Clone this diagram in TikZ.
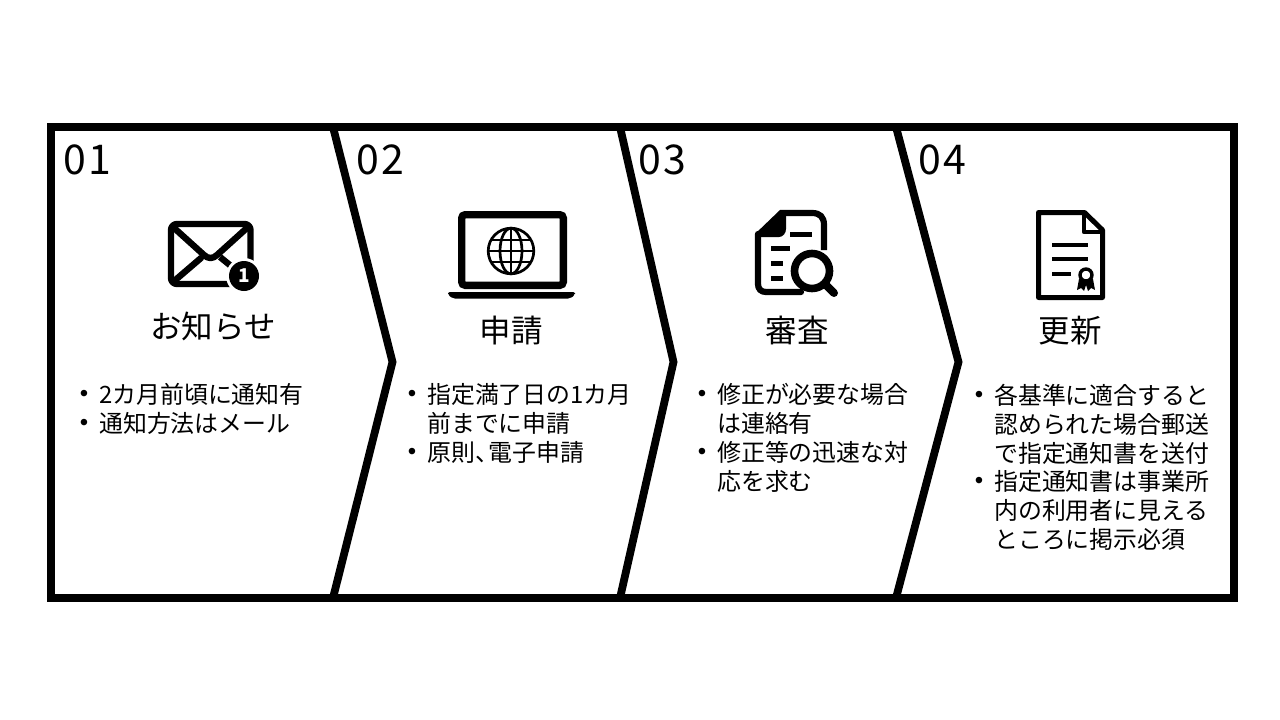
\documentclass[tikz,border=0pt]{standalone}
\usepackage{fontspec}
\setmainfont{Noto Sans CJK JP}
\newfontfamily\bulletfont{Liberation Sans}
\tikzset{
  frameline/.style={line width=7.8pt,line join=miter},
  chevron/.style={line width=7.8pt,line join=miter},
  numlabel/.style={anchor=base west,inner sep=0pt,font=\fontsize{41}{48}\selectfont},
  titlelabel/.style={anchor=base,inner sep=0pt,font=\fontsize{31.5}{36}\selectfont},
  bodytext/.style={anchor=north west,inner sep=0pt,align=left,font=\fontsize{23.9}{28.7}\selectfont},
  bulletmark/.style={anchor=center,inner sep=0pt,font=\bulletfont\fontsize{24}{24}\selectfont},
  icon/.style={line width=6.4pt,line cap=round,line join=round},
  iconthin/.style={line width=5pt,line cap=butt},
}
\begin{document}
\begin{tikzpicture}[x=1pt,y=-1pt]
\useasboundingbox (0,0) rectangle (1280,720);
\fill[white] (0,0) rectangle (1280,720);
% frame and chevrons
\coordinate (fa) at (50.7,126.7);
\coordinate (fb) at (1234.3,598);
\draw[frameline] (fa) rectangle (fb);
\draw[chevron] (333,127) -- (392.5,362) -- (333,598);
\draw[chevron] (620,127) -- (673.5,362) -- (620,598);
\draw[chevron] (896,127) -- (958.5,362) -- (896,598);
% numbers
\node[numlabel] (n1) at (63,174) {0\kern3pt 1};
\node[numlabel] (n2) at (356,174) {0\kern3pt 2};
\node[numlabel] (n3) at (638,174) {0\kern3pt 3};
\node[numlabel] (n4) at (918,174) {0\kern3pt 4};
% titles
\node[titlelabel] (t1) at (213,338.5) {お知らせ};
\node[titlelabel] (t2) at (511,342.5) {申請};
\node[titlelabel] (t3) at (797,342.5) {審査};
\node[titlelabel] (t4) at (1070,342.5) {更新};
% body col 1
\node[bulletmark] (b11) at (84,396) {•};
\node[bulletmark] (b12) at (84,425) {•};
\node[bodytext] (c11) at (99,383.5) {2カ月前頃に通知有};
\node[bodytext] (c12) at (99,412.5) {通知方法はメール};
% body col 2
\node[bulletmark] (b21) at (412,396) {•};
\node[bulletmark] (b22) at (412,454) {•};
\node[bodytext] (c21) at (427,383.5) {指定満了日の1カ月\\前までに申請};
\node[bodytext] (c22) at (427,441.5) {原則、\kern-10pt 電子申請};
% body col 3
\node[bulletmark] (b31) at (702,396) {•};
\node[bulletmark] (b32) at (702,454) {•};
\node[bodytext] (c31) at (717,383.5) {修正が必要な場合\\は連絡有};
\node[bodytext] (c32) at (717,441.5) {修正等の迅速な対\\応を求む};
% body col 4
\node[bulletmark] (b41) at (979,397) {•};
\node[bulletmark] (b42) at (979,483) {•};
\node[bodytext] (c41) at (994,384.5) {各基準に適合すると\\認められた場合郵送\\で指定通知書を送付};
\node[bodytext] (c42) at (994,470.5) {指定通知書は事業所\\内の利用者に見える\\ところに掲示必須};
% envelope icon
\draw[icon,rounded corners=6pt] (171,224) rectangle (250.5,284);
\draw[icon] (173,227) -- (204,255) .. controls (208,259) and (213,259) .. (217,255) -- (248,227);
\draw[icon] (173,282) -- (201,258);
\draw[icon,line cap=butt] (220,257) -- (231,266);
\fill[white] (244,276) circle (18);
\fill[black] (244,276) circle (15);
\node[anchor=center,inner sep=0pt,text=white,font=\bfseries\fontsize{19}{19}\selectfont] (badge) at (244,276) {1};
% laptop icon
\draw[line width=7.4pt,rounded corners=3.5pt] (461.7,214.7) rectangle (563.3,285.3);
\fill[rounded corners=2pt] (448,292) -- (575,292) -- (575,295) -- (570,298.5) -- (453,298.5) -- (448,295) -- cycle;
\begin{scope}[line width=2.7pt]
\draw (511,251) circle (22.8);
\draw (511,251) ellipse (11 and 22.8);
\draw (511,228) -- (511,274);
\draw (488.2,251) -- (533.8,251);
\draw (491,240) -- (531,240);
\draw (491,262) -- (531,262);
\end{scope}
% document with magnifier icon
\fill (755,234) -- (780,210) -- (786,216) -- (786,229) .. controls (786,233) and (783,237) .. (779,237) -- (760,237) -- (755,240) -- cycle;
\draw[icon,line width=6.2pt] (758,234) -- (758,284) .. controls (758,289) and (761,292) .. (766,292) -- (801,292);
\draw[icon,line width=6.2pt,line cap=butt] (780,213) -- (812,213) .. controls (820,213) and (824,217) .. (824,225) -- (824,250);
\draw[iconthin] (790,234.5) -- (812,234.5);
\draw[iconthin] (771,248.5) -- (790,248.5);
\draw[iconthin] (771,263) -- (783,263);
\draw[iconthin] (771,278) -- (783,278);
\draw[line width=7.6pt,fill=white] (812,271) circle (17.5);
\draw[line width=8pt,line cap=round] (825,284) -- (834,293);
% certificate icon
\draw[line width=5pt,line join=round] (1084.5,212.5) -- (1038.5,212.5) -- (1038.5,297.5) -- (1102.5,297.5) -- (1102.5,230) -- cycle;
\draw[line width=4.5pt,line join=round] (1084,213) -- (1084,232) -- (1102,232);
\draw[line width=4pt] (1052,244.5) -- (1088,244.5);
\draw[line width=4pt] (1052,259) -- (1088,259);
\draw[line width=4pt] (1052,274) -- (1071,274);
\fill (1079,279) -- (1077,290) -- (1081,288) -- (1084,291) -- (1086,285) -- (1088,291) -- (1091,288) -- (1095,290) -- (1093,279) -- cycle;
\draw[line width=3.4pt,fill=white] (1086,275) circle (6);
\end{tikzpicture}
\end{document}
